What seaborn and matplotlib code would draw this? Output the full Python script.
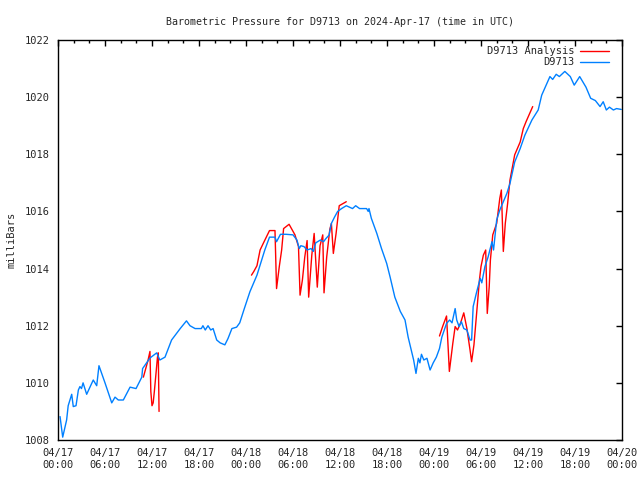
#Barometric pressure D9713 - seaborn

import numpy as np
import pandas as pd
import matplotlib.pyplot as plt
from matplotlib.lines import Line2D
import seaborn as sea

#Dados (horas desde 04/17 00:00 UTC, milliBars)
horas_obs = [0.26, 0.6, 1.1, 1.3, 1.75, 1.95, 2.3, 2.6, 2.8, 3.0, 3.2, 3.66, 4.5, 4.94, 5.23,
             6.0, 6.86, 7.28, 7.7, 8.34, 9.2, 9.96, 10.7, 10.8, 11.74, 12.6, 13.0, 13.66, 14.5,
             15.6, 16.4, 16.85, 17.5, 18.3, 18.5, 18.8, 19.15, 19.5, 19.8, 20.26, 20.7, 21.3,
             21.7, 22.2, 22.8, 23.2, 23.75, 24.5, 25.4, 26.0, 26.4, 27.0, 27.7, 27.9, 28.4,
             29.1, 30.0, 30.5, 30.8, 31.0, 31.4, 31.8, 32.3, 32.6, 32.9, 33.5, 33.9, 34.2,
             34.6, 34.9, 35.3, 35.7, 36.2, 36.8, 37.2, 37.6, 38.0, 38.5, 39.4, 39.6, 39.7,
             40.0, 40.7, 41.3, 41.96, 42.4, 43.0, 43.7, 44.3, 44.7, 45.4, 45.7, 46.0, 46.2,
             46.4, 46.7, 47.1, 47.5, 47.9, 48.3, 48.7, 49.0, 49.6, 50.0, 50.3, 50.7, 50.9,
             51.2, 51.5, 51.8, 52.2, 52.6, 52.8, 53.0, 53.4, 53.9, 54.1, 54.5, 54.9, 55.4,
             55.6, 56.0, 56.4, 56.85, 57.3, 57.7, 58.3, 59.0, 59.6, 60.5, 61.3, 61.75, 62.8,
             63.15, 63.6, 64.0, 64.7, 65.4, 65.9, 66.6, 67.4, 68.0, 68.6, 69.2, 69.6, 70.0,
             70.4, 70.9, 71.3, 71.9]
pressao_obs = [1008.82, 1008.1, 1008.7, 1009.2, 1009.6, 1009.17, 1009.2, 1009.75, 1009.87, 1009.8,
               1010.0, 1009.6, 1010.1, 1009.9, 1010.6, 1010.0, 1009.3, 1009.5, 1009.4, 1009.4,
               1009.85, 1009.8, 1010.2, 1010.5, 1010.87, 1011.05, 1010.8, 1010.9, 1011.5,
               1011.9, 1012.17, 1012.0, 1011.9, 1011.9, 1012.0, 1011.85, 1012.0, 1011.85,
               1011.9, 1011.5, 1011.4, 1011.33, 1011.55, 1011.9, 1011.95, 1012.1, 1012.57,
               1013.19, 1013.77, 1014.3, 1014.65, 1015.1, 1015.1, 1014.94, 1015.2, 1015.2,
               1015.18, 1015.0, 1014.7, 1014.8, 1014.77, 1014.65, 1014.7, 1014.6, 1014.9,
               1015.0, 1014.94, 1015.05, 1015.17, 1015.58, 1015.8, 1016.0, 1016.1, 1016.2,
               1016.15, 1016.1, 1016.2, 1016.1, 1016.1, 1016.0, 1016.1, 1015.76, 1015.23,
               1014.7, 1014.18, 1013.7, 1013.0, 1012.5, 1012.2, 1011.6, 1010.8, 1010.33,
               1010.86, 1010.7, 1011.0, 1010.8, 1010.86, 1010.45, 1010.7, 1010.9, 1011.2,
               1011.6, 1012.08, 1012.2, 1012.1, 1012.6, 1012.2, 1011.97, 1012.14, 1011.9,
               1011.85, 1011.5, 1011.5, 1012.67, 1013.13, 1013.66, 1013.5, 1014.07, 1014.4,
               1014.94, 1014.65, 1015.7, 1016.05, 1016.34, 1016.63, 1016.98, 1017.73, 1018.2,
               1018.67, 1019.2, 1019.55, 1020.07, 1020.72, 1020.62, 1020.8, 1020.72, 1020.9,
               1020.72, 1020.42, 1020.72, 1020.35, 1019.96, 1019.88, 1019.67, 1019.84,
               1019.55, 1019.65, 1019.55, 1019.6, 1019.57]

#Analise: tres trechos separados
horas_an_1 = [10.9, 11.2, 11.5, 11.74, 11.85, 12.0, 12.15, 12.3, 12.5, 12.7, 12.8, 12.9]
pressao_an_1 = [1010.2, 1010.5, 1010.8, 1011.1, 1009.7, 1009.2, 1009.3, 1009.7, 1010.3, 1010.9,
                1011.05, 1009.0]
horas_an_2 = [24.7, 25.0, 25.4, 25.8, 26.2, 27.0, 27.7, 27.9, 28.25, 28.55, 28.8, 29.5, 30.25,
              30.7, 30.9, 31.2, 31.5, 31.8, 32.0, 32.4, 32.7, 33.1, 33.45, 33.8, 33.96, 34.3,
              34.7, 34.9, 35.15, 35.5, 35.9, 36.8]
pressao_an_2 = [1013.77, 1013.9, 1014.1, 1014.65, 1014.88, 1015.33, 1015.33, 1013.3, 1014.07,
                1014.65, 1015.4, 1015.55, 1015.18, 1014.77, 1013.07, 1013.6, 1014.4, 1014.98,
                1013.0, 1014.47, 1015.23, 1013.35, 1014.8, 1015.18, 1013.15, 1014.4, 1015.37,
                1015.58, 1014.53, 1015.23, 1016.2, 1016.34]
horas_an_3 = [48.7, 49.1, 49.6, 49.96, 50.4, 50.7, 51.0, 51.4, 51.8, 52.2, 52.6, 52.8, 53.1,
              53.4, 53.8, 54.0, 54.3, 54.6, 54.8, 55.05, 55.2, 55.5, 56.0, 56.4, 56.6, 56.85,
              57.1, 57.4, 57.7, 58.3, 59.0, 59.4, 59.75, 60.6]
pressao_an_3 = [1011.64, 1011.97, 1012.34, 1010.4, 1011.38, 1011.97, 1011.85, 1012.1, 1012.45,
                1011.9, 1011.15, 1010.74, 1011.33, 1012.3, 1013.6, 1014.07, 1014.47, 1014.65,
                1012.43, 1013.37, 1014.3, 1015.18, 1015.58, 1016.46, 1016.75, 1014.6, 1015.58,
                1016.28, 1017.1, 1017.98, 1018.43, 1018.9, 1019.14, 1019.67]

xticks = list(range(0, 73, 6))
xlabels = ["04/17\n00:00", "04/17\n06:00", "04/17\n12:00", "04/17\n18:00",
           "04/18\n00:00", "04/18\n06:00", "04/18\n12:00", "04/18\n18:00",
           "04/19\n00:00", "04/19\n06:00", "04/19\n12:00", "04/19\n18:00",
           "04/20\n00:00"]
xminor = [h for h in range(2, 72, 2) if h % 6 != 0]
yticks = list(range(1008, 1023, 2))

#DataFrames
obs = pd.DataFrame({"h": horas_obs, "p": pressao_obs})
an = pd.concat([
    pd.DataFrame({"h": horas_an_1, "p": pressao_an_1, "seg": 1}),
    pd.DataFrame({"h": horas_an_2, "p": pressao_an_2, "seg": 2}),
    pd.DataFrame({"h": horas_an_3, "p": pressao_an_3, "seg": 3}),
])

sea.set_style("white")
plt.rcParams['font.family'] = ['DejaVu Sans Mono']
plt.rcParams['font.size'] = 7.5

vermelho = "#ff0000"
azul = "#0080ff"

fig = plt.figure(figsize=(6.4, 4.8), dpi=100)
ax = fig.add_axes([58/640, 40/480, 564/640, 400/480])

sea.lineplot(data=an, x="h", y="p", units="seg", estimator=None, color=vermelho,
             linewidth=1, ax=ax, legend=False, sort=False)
sea.lineplot(data=obs, x="h", y="p", color=azul, linewidth=1, ax=ax, legend=False)

ax.set_xlim(0, 72)
ax.set_ylim(1008, 1022)
ax.set_xticks(xticks)
ax.set_xticklabels(xlabels)
ax.set_xticks(xminor, minor=True)
ax.set_yticks(yticks)
ax.tick_params(axis="both", which="both", direction="in", top=True, right=True,
               color="black", width=1)
ax.tick_params(axis="both", which="major", length=4, pad=6)
ax.tick_params(axis="x", which="minor", length=2.3)
for s in ax.spines.values():
    s.set_color("black")
    s.set_linewidth(1)

ax.set_xlabel("")
ax.set_ylabel("milliBars", labelpad=6)
ax.set_title("Barometric Pressure for D9713 on 2024-Apr-17 (time in UTC)",
             fontsize=7.2, pad=11)

handles = [Line2D([], [], color=vermelho, linewidth=1),
           Line2D([], [], color=azul, linewidth=1)]
ax.legend(handles, ["D9713 Analysis", "D9713"], loc="upper right", frameon=False,
          markerfirst=False, handlelength=2.8, borderaxespad=0.2, labelspacing=0.1,
          handletextpad=0.5, bbox_to_anchor=(1 - 7/564, 1))

plt.savefig("out.png", dpi=100)
